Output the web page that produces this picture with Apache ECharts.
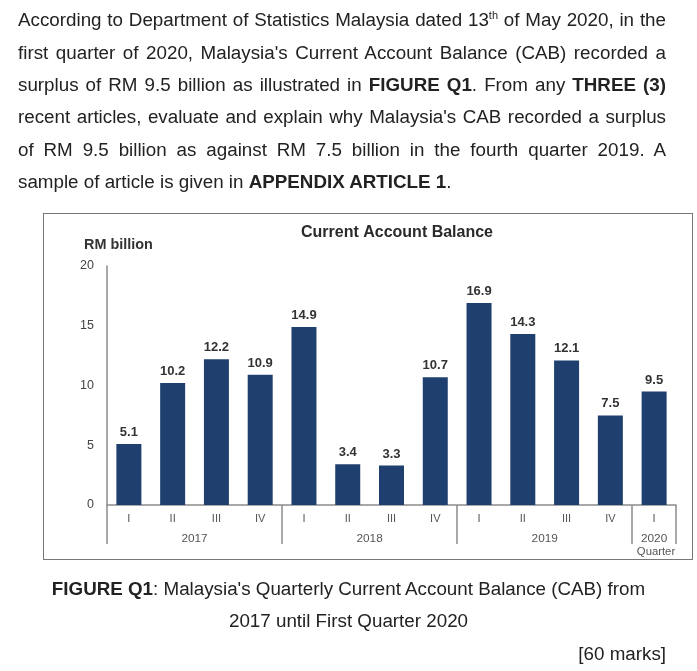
<!DOCTYPE html>
<html>
<head>
<meta charset="utf-8">
<style>
  html, body { margin: 0; padding: 0; background: #fff; }
  body { width: 697px; height: 671px; position: relative; overflow: hidden; font-family: "Liberation Sans", Arial, sans-serif; color: #222; }
  #chart { position: absolute; left: 0; top: 0; width: 697px; height: 671px; }
  .line { position: absolute; left: 18px; width: 648px; font-size: 18.8px; line-height: 20px; text-align: justify; text-align-last: justify; }
  .line.last { text-align-last: left; }
  .cap { position: absolute; left: 0; width: 697px; text-align: center; font-size: 18.8px; line-height: 20px; }
  .frame { position: absolute; left: 43px; top: 213px; width: 648px; height: 345px; border: 1.5px solid #777; }
  sup { font-size: 11px; line-height: 0; }
</style>
<script src="https://cdn.jsdelivr.net/npm/echarts@6/dist/echarts.min.js"></script>
</head>
<body>
<div class="frame"></div>
<div id="chart"></div>
<div class="line" style="top:10px">According to Department of Statistics Malaysia dated 13<sup>th</sup> of May 2020, in the</div>
<div class="line" style="top:43px">first quarter of 2020, Malaysia's Current Account Balance (CAB) recorded a</div>
<div class="line" style="top:75px">surplus of RM 9.5 billion as illustrated in <b>FIGURE Q1</b>. From any <b>THREE (3)</b></div>
<div class="line" style="top:107px">recent articles, evaluate and explain why Malaysia's CAB recorded a surplus</div>
<div class="line" style="top:140px">of RM 9.5 billion as against RM 7.5 billion in the fourth quarter 2019. A</div>
<div class="line last" style="top:172px">sample of article is given in <b>APPENDIX ARTICLE 1</b>.</div>
<div class="cap" style="top:579px"><b>FIGURE Q1</b>: Malaysia's Quarterly Current Account Balance (CAB) from</div>
<div class="cap" style="top:611px">2017 until First Quarter 2020</div>
<div class="cap" style="top:644px;left:auto;right:31px;width:auto">[60 marks]</div>
<script>
var quarters = ["I", "II", "III", "IV", "I", "II", "III", "IV", "I", "II", "III", "IV", "I"];
var values = [5.1, 10.2, 12.2, 10.9, 14.9, 3.4, 3.3, 10.7, 16.9, 14.3, 12.1, 7.5, 9.5];
var years = ["2017", "2018", "2019", "2020"];
var yearEdges = [0, 4, 8, 12, 13];
var yearCentres = [2, 6, 10, 12.5];

var axisGrey = "#8c8c8c";
var chart = echarts.init(document.getElementById("chart"));
chart.setOption({
  animation: false,
  title: [
    { text: "Current Account Balance", left: 392, top: 220, textAlign: "center",
      textStyle: { fontFamily: "Liberation Sans", fontSize: 16, fontWeight: "bold", color: "#2a2a2a" } },
    { text: "RM billion", left: 79, top: 233,
      textStyle: { fontFamily: "Liberation Sans", fontSize: 14.4, fontWeight: "bold", color: "#333" } },
    { text: "Quarter", left: 651, top: 541, textAlign: "center",
      textStyle: { fontFamily: "Liberation Sans", fontSize: 11.3, fontWeight: "normal", color: "#555" } }
  ],
  grid: { left: 107, top: 266, width: 569, height: 239 },
  xAxis: [{
    type: "category",
    data: quarters,
    axisLine: { lineStyle: { color: axisGrey, width: 1.5 } },
    axisTick: { show: false },
    axisLabel: { interval: 0, margin: 8, fontFamily: "Liberation Sans", fontSize: 11, color: "#555" }
  }, {
    type: "value",
    position: "bottom",
    min: 0,
    max: 13,
    splitLine: { show: false },
    axisLine: { show: false },
    axisTick: { show: true, length: 39, customValues: yearEdges, lineStyle: { color: axisGrey, width: 1.5 } },
    axisLabel: {
      margin: 28,
      fontFamily: "Liberation Sans",
      fontSize: 11.8,
      color: "#555",
      customValues: yearCentres,
      formatter: function (v) { return years[yearCentres.indexOf(v)]; }
    }
  }],
  yAxis: {
    type: "value",
    min: 0,
    max: 20,
    interval: 5,
    splitLine: { show: false },
    axisLine: { show: true, lineStyle: { color: axisGrey, width: 1.5 } },
    axisTick: { show: false },
    axisLabel: { margin: 13, padding: [2, 0, 0, 0], fontFamily: "Liberation Sans", fontSize: 12.5, color: "#444" }
  },
  series: [{
    type: "bar",
    data: values,
    barWidth: 25,
    itemStyle: { color: "#1f3f6e" },
    label: {
      show: true,
      position: "top",
      distance: 5,
      fontFamily: "Liberation Sans",
      fontSize: 13,
      fontWeight: "bold",
      color: "#333",
      formatter: function (p) { return p.value.toFixed(1); }
    }
  }]
});
</script>
</body>
</html>
